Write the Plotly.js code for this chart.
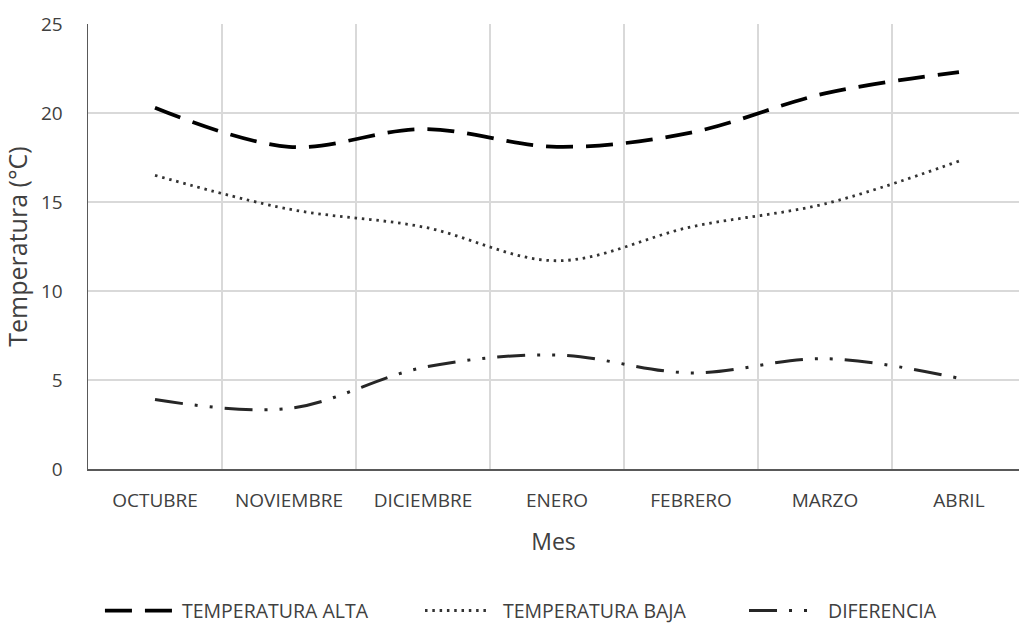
<!DOCTYPE html>
<html>
<head>
<meta charset="utf-8">
<script src="https://cdn.plot.ly/plotly-3.0.1.min.js"></script>
<style>html,body{margin:0;padding:0;background:#fff;}#chart{width:1019px;height:624px;}</style>
</head>
<body>
<div id="chart"></div>
<script>
const meses = ["OCTUBRE", "NOVIEMBRE", "DICIEMBRE", "ENERO", "FEBRERO", "MARZO", "ABRIL"];
const tempAlta = [20.3, 18.1, 19.1, 18.1, 18.9, 21.1, 22.3];
const tempBaja = [16.5, 14.6, 13.6, 11.7, 13.6, 14.9, 17.3];
const diferencia = [3.9, 3.4, 5.7, 6.4, 5.4, 6.2, 5.1];
const yTicks = [0, 5, 10, 15, 20, 25];
const seriesNames = ["TEMPERATURA ALTA", "TEMPERATURA BAJA", "DIFERENCIA"];

const font = "'Open Sans', 'Liberation Sans', sans-serif";
const textColor = "#404040";

const styles = [
  {color: "#000000", width: 3.75, dash: "27px,13px"},
  {color: "#333333", width: 2.8, dash: "2.5px,4.8px"},
  {color: "#262626", width: 3, dash: "28px,12px,3px,12px,3px,12px"}
];
const seriesData = [tempAlta, tempBaja, diferencia];

const traces = seriesData.map((vals, i) => ({
  x: meses, y: vals, name: seriesNames[i], type: "scatter", mode: "lines",
  line: Object.assign({shape: "spline", smoothing: 1}, styles[i]),
  showlegend: false
}));

// Custom legend (keys as paper-referenced shapes, labels as annotations)
const legendY = -0.318;
const keyX = [[0.0182, 0.0924], [0.362, 0.4307], [0.710, 0.782]];
const labelX = [0.100, 0.4445, 0.7935];
const shapes = keyX.map((k, i) => ({
  type: "line", xref: "paper", yref: "paper", x0: k[0], x1: k[1], y0: legendY, y1: legendY,
  line: {color: styles[i].color, width: styles[i].width, dash: styles[i].dash}
}));
const annotations = labelX.map((lx, i) => ({
  xref: "paper", yref: "paper", x: lx, y: legendY, xanchor: "left", yanchor: "middle",
  text: seriesNames[i], showarrow: false, borderpad: 0,
  font: {size: 19.5, color: textColor, family: font}
}));

const layout = {
  width: 1019, height: 624,
  margin: {l: 88, r: 0, t: 24, b: 155},
  paper_bgcolor: "#ffffff", plot_bgcolor: "#ffffff",
  font: {family: font, color: textColor, size: 19},
  showlegend: false,
  shapes: shapes,
  annotations: annotations,
  xaxis: {type: "category", range: [-0.5, 6.448], tickson: "boundaries", ticks: "",
          showgrid: true, gridcolor: "#d9d9d9", gridwidth: 1.3,
          showline: true, linecolor: "#595959", linewidth: 1.5,
          ticklabelstandoff: 14, tickfont: {size: 19, color: textColor},
          title: {text: "Mes", font: {size: 23, color: textColor}, standoff: 21},
          zeroline: false, fixedrange: true},
  yaxis: {range: [0, 25], tickvals: yTicks, ticks: "",
          showgrid: true, gridcolor: "#d9d9d9", gridwidth: 1.3,
          showline: true, linecolor: "#595959", linewidth: 1.5,
          ticklabelstandoff: 20, tickfont: {size: 19, color: textColor},
          title: {text: "Temperatura (°C)", font: {size: 25, color: textColor}, standoff: 8},
          zeroline: false, fixedrange: true}
};

Plotly.newPlot("chart", traces, layout, {displayModeBar: false, staticPlot: true});
</script>
</body>
</html>
